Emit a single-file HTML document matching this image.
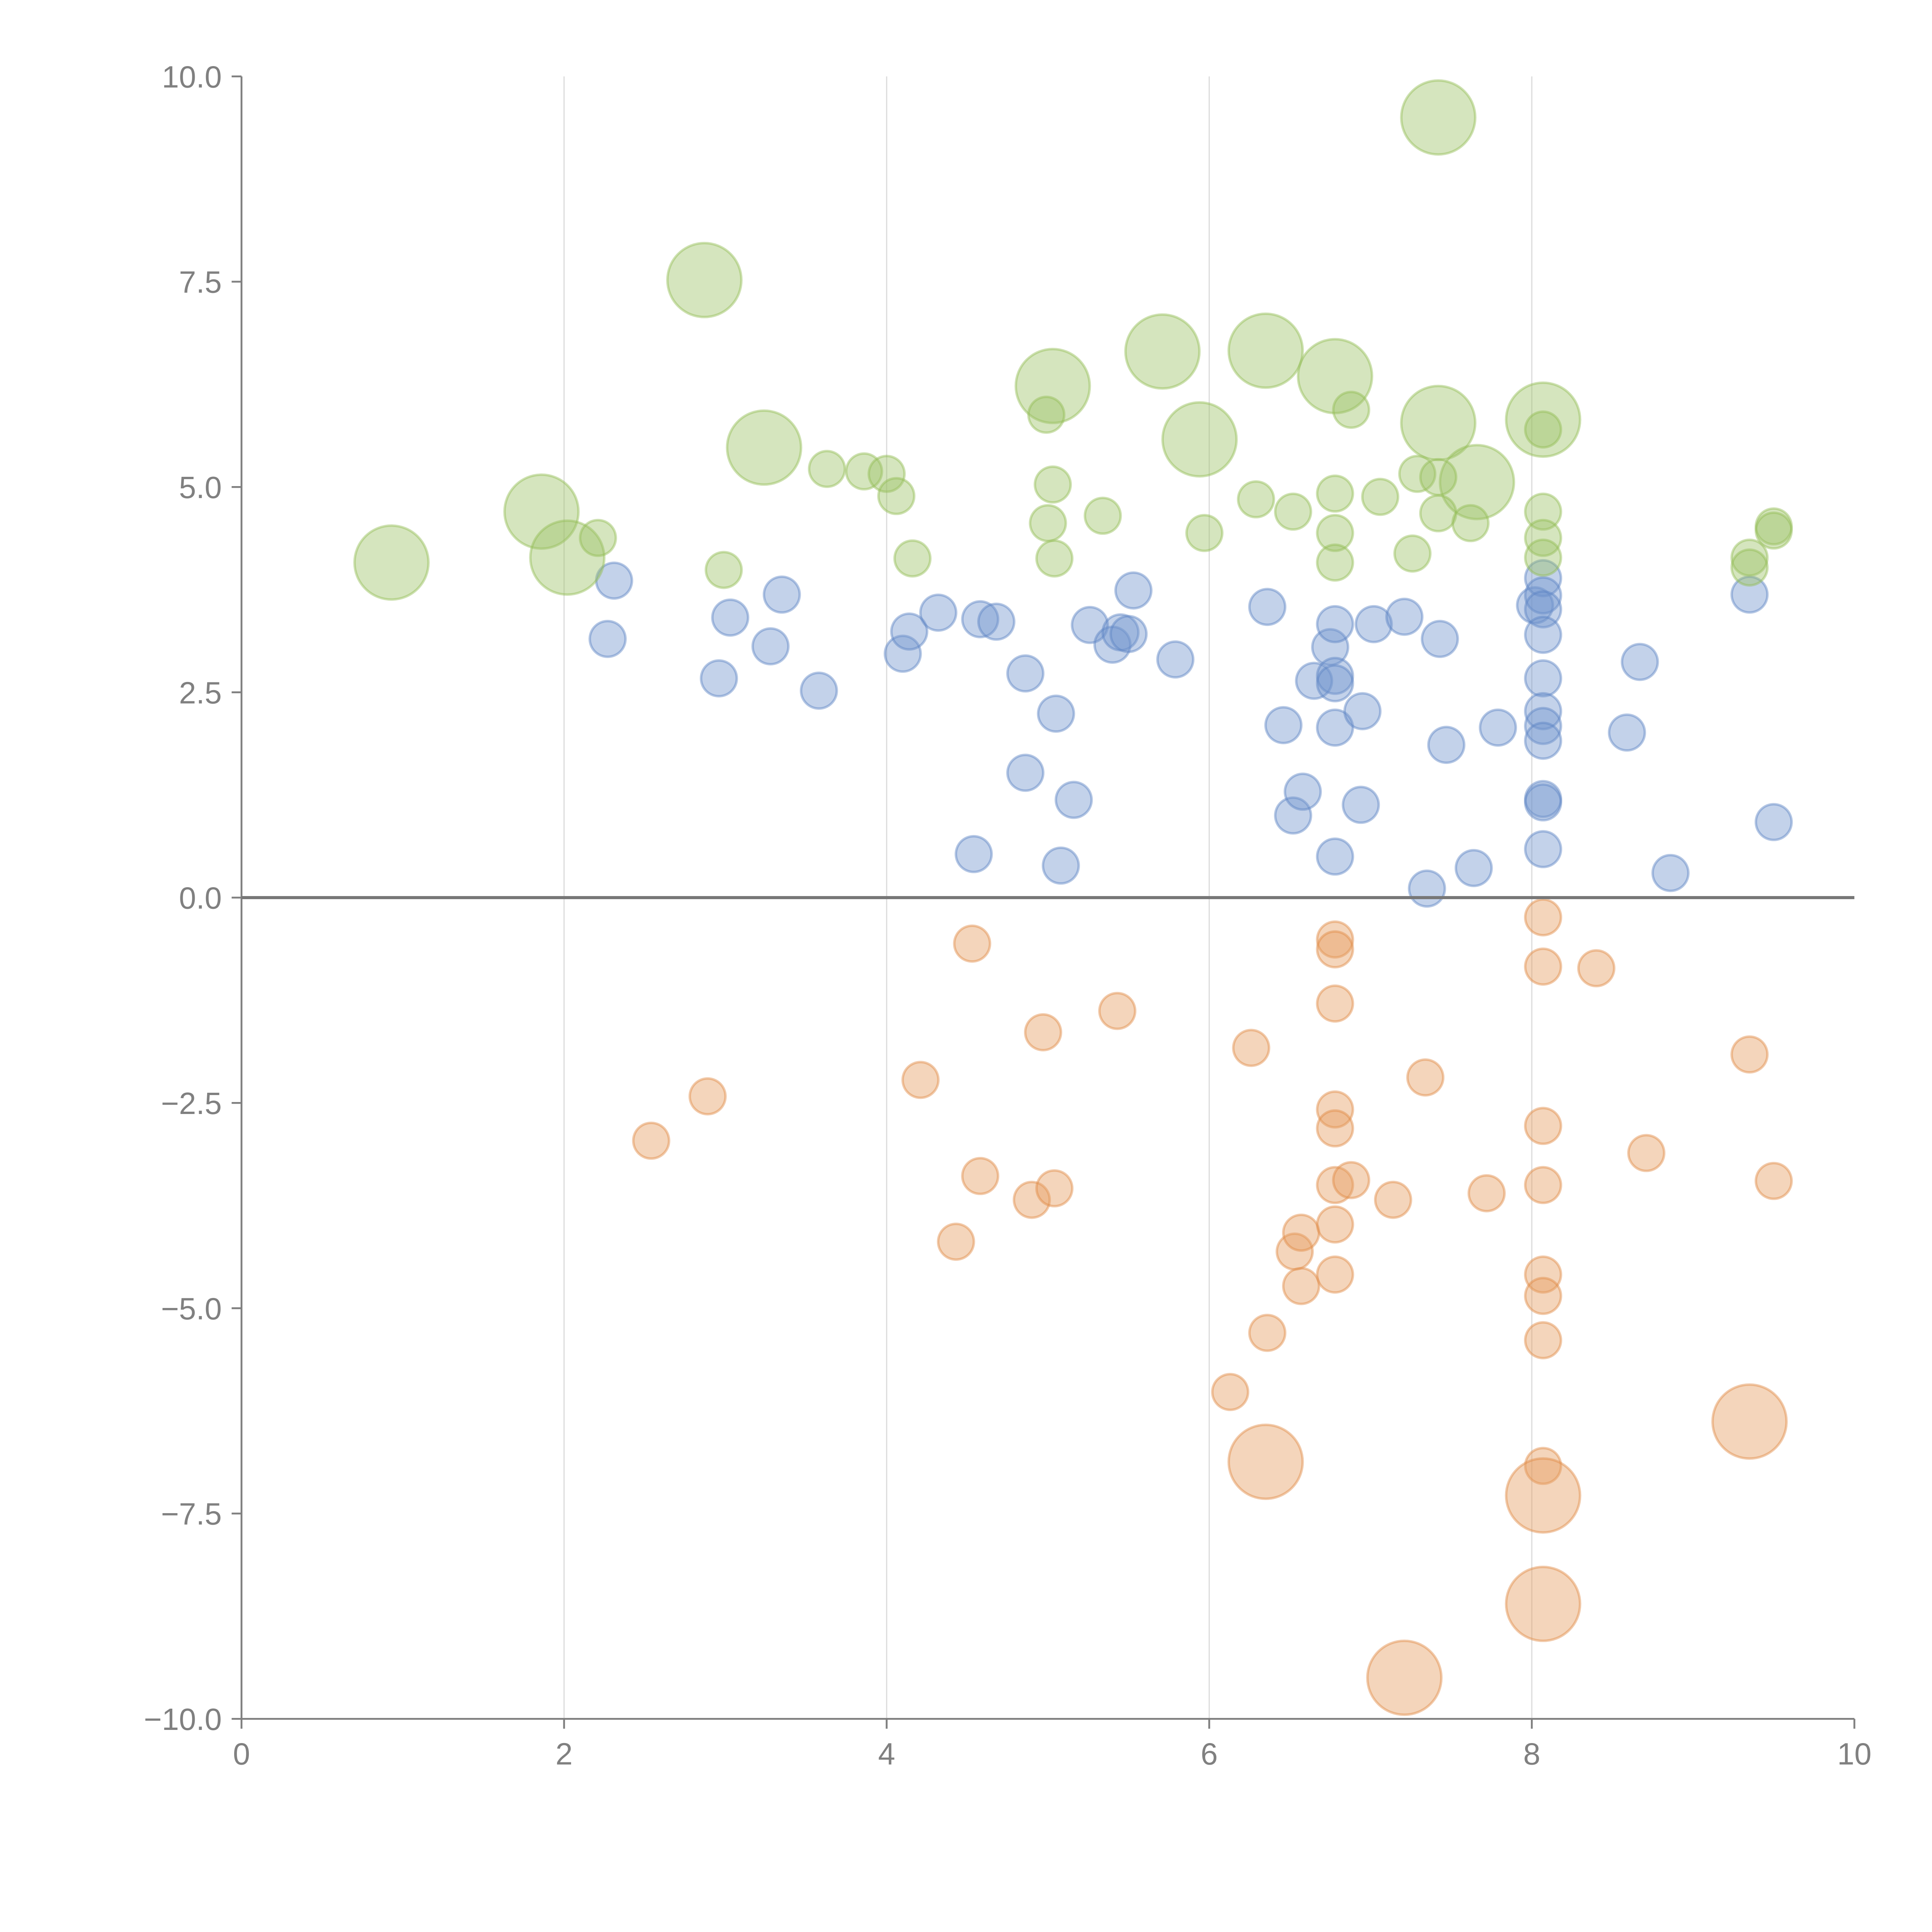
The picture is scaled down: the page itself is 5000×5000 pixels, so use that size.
<!DOCTYPE html>
<html><head><meta charset="utf-8"><style>html,body{margin:0;padding:0;background:#fff}svg{display:block}</style></head>
<body>
<svg id="chart" width="5000" height="5000" viewBox="0 0 1568 1568" xmlns="http://www.w3.org/2000/svg" font-family="Liberation Sans, sans-serif">
<g id="grid"></g>
<g id="marks"></g>
<g id="axes"></g>
</svg>
<script>
const greenX=[0.93,1.86,2.02,2.87,3.24,5.03,5.71,5.94,6.35,6.78,7.42,7.42,7.66,8.07,2.21,2.99,3.63,3.86,4.0,4.06,4.16,4.99,5.03,5.0,5.04,5.34,5.97,6.29,6.52,6.78,6.78,6.78,6.88,7.06,7.26,7.29,7.42,7.42,7.62,8.07,8.07,8.07,8.07,9.35,9.35,9.5,9.5];
const greenY=[4.08,4.70,4.14,7.52,5.48,6.23,6.65,5.58,6.66,6.35,9.50,5.78,5.06,5.82,4.38,3.99,5.22,5.19,5.16,4.89,4.13,5.88,5.03,4.56,4.13,4.65,4.44,4.85,4.70,4.92,4.44,4.08,5.94,4.88,4.19,5.16,5.12,4.68,4.56,5.70,4.70,4.38,4.14,4.14,4.02,4.52,4.47];
const greenS=[2,2,2,2,2,2,2,2,2,2,2,2,2,2,1,1,1,1,1,1,1,1,1,1,1,1,1,1,1,1,1,1,1,1,1,1,1,1,1,1,1,1,1,1,1,1,1];
const blueX=[2.31,2.27,2.96,3.03,3.28,3.35,3.58,4.10,4.14,4.32,4.54,4.58,4.68,4.86,4.86,5.05,5.08,5.16,5.26,5.40,5.45,5.50,5.53,5.79,6.36,6.46,6.52,6.58,6.65,6.75,6.78,6.78,6.78,6.78,6.78,6.94,6.95,7.02,7.21,7.35,7.43,7.47,7.64,7.79,8.02,8.07,8.07,8.07,8.07,8.07,8.07,8.07,8.07,8.07,8.07,8.07,8.59,8.67,8.86,9.35,9.50];
const blueY=[3.86,3.15,2.67,3.41,3.06,3.69,2.52,2.97,3.24,3.47,0.53,3.39,3.36,2.73,1.52,2.24,0.39,1.19,3.32,3.08,3.23,3.21,3.74,2.90,3.54,2.10,1.0,1.29,2.64,3.05,3.33,2.70,2.61,2.07,0.50,1.13,2.27,3.33,3.42,0.11,3.15,1.86,0.36,2.07,3.56,3.89,3.68,3.51,3.20,2.67,2.27,2.09,1.91,1.20,1.16,0.59,2.01,2.87,0.30,3.69,0.92];
const orangeX=[2.54,2.89,4.21,4.43,4.53,4.58,4.90,4.97,5.04,5.43,6.13,6.26,6.36,6.53,6.57,6.57,6.78,6.78,6.78,6.78,6.78,6.78,6.78,6.78,6.88,7.14,7.34,7.72,8.07,8.07,8.07,8.07,8.07,8.07,8.07,8.07,8.40,8.71,9.35,9.50,6.35,8.07,8.07,7.21,9.35];
const orangeY=[-2.96,-2.42,-2.22,-4.19,-0.56,-3.39,-3.68,-1.64,-3.54,-1.38,-6.02,-1.83,-5.30,-4.31,-4.08,-4.73,-0.51,-0.63,-1.29,-2.58,-2.81,-3.50,-3.98,-4.59,-3.44,-3.68,-2.19,-3.60,-0.24,-0.84,-2.78,-3.50,-4.59,-4.85,-5.39,-6.92,-0.86,-3.11,-1.91,-3.45,-6.87,-7.28,-8.60,-9.50,-6.38];
const orangeS=[1,1,1,1,1,1,1,1,1,1,1,1,1,1,1,1,1,1,1,1,1,1,1,1,1,1,1,1,1,1,1,1,1,1,1,1,1,1,1,1,2,2,2,2,2];
const xTicks=[0,2,4,6,8,10];
const yTicks=[10,7.5,5,2.5,0,-2.5,-5,-7.5,-10];
const yTickLabels=["10.0","7.5","5.0","2.5","0.0","\u22122.5","\u22125.0","\u22127.5","\u221210.0"];

const NS="http://www.w3.org/2000/svg";
const X0=196,X1=1505,Y0=1395,Y1=62;
function sx(v){return X0+(v-0)/(10-0)*(X1-X0);}
function sy(v){return Y0-(v+10)/20*(Y0-Y1);}
function rs(s){return s===2?30:14.5;}
function mk(tag,attrs,parent){const e=document.createElementNS(NS,tag);for(const k in attrs)e.setAttribute(k,attrs[k]);parent.appendChild(e);return e;}
const grid=document.getElementById('grid'),marks=document.getElementById('marks'),axes=document.getElementById('axes');
xTicks.forEach(t=>{if(t>0&&t<10){const l=mk('line',{x1:sx(t),x2:sx(t),y1:Y1,y2:Y0,stroke:'#dddddd','stroke-width':1},grid);

}});
function series(xs,ys,ss,fill,stroke,name){
  const g=mk('g',{},marks);
  
  
  xs.forEach((x,i)=>{const c=mk('circle',{cx:sx(x),cy:sy(ys[i]),r:rs(ss?ss[i]:1),fill:fill,'fill-opacity':0.42,stroke:stroke,'stroke-opacity':0.45,'stroke-width':2},g);
  
  });
}
series(orangeX,orangeY,orangeS,'#e49a5e','#e08a45','orange');
series(blueX,blueY,null,'#6f93cc','#5a82c4','blue');
series(greenX,greenY,greenS,'#9cc263','#93bd55','green');
let a=mk('line',{x1:X0,x2:X0,y1:Y1,y2:Y0,stroke:'#808080','stroke-width':1.5},axes);


a=mk('line',{x1:X0,x2:X1,y1:Y0,y2:Y0,stroke:'#808080','stroke-width':1.5},axes);


a=mk('line',{x1:X0,x2:X1,y1:sy(0),y2:sy(0),stroke:'#777','stroke-width':2.5},axes);


xTicks.forEach(t=>{const tk=mk('line',{x1:sx(t),x2:sx(t),y1:Y0,y2:Y0+8,stroke:'#808080','stroke-width':1.5},axes);


const tx=mk('text',{x:sx(t),y:Y0+37,'text-anchor':'middle','font-size':25,fill:'#808080'},axes);tx.textContent=String(t);

});
yTicks.forEach((t,i)=>{const tk=mk('line',{x1:X0-8,x2:X0,y1:sy(t),y2:sy(t),stroke:'#808080','stroke-width':1.5},axes);


const tx=mk('text',{x:X0-16,y:sy(t)+9,'text-anchor':'end','font-size':25,fill:'#808080'},axes);tx.textContent=yTickLabels[i];

});
</script>
</body></html>
